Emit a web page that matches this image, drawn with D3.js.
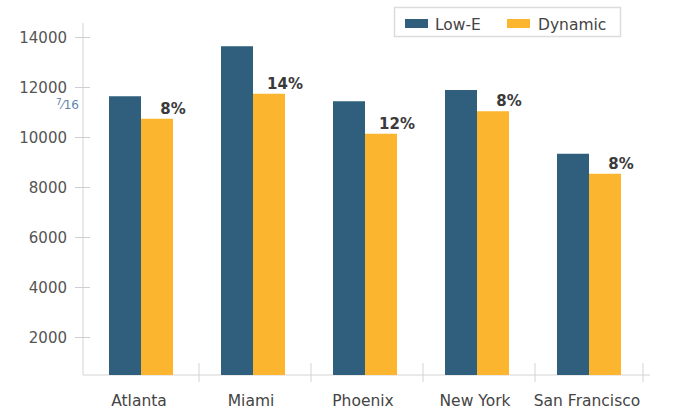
<!DOCTYPE html>
<html><head><meta charset="utf-8">
<script src="https://cdn.jsdelivr.net/npm/d3@7"></script>
<style>body{margin:0;background:#fff;}svg{display:block;font-family:"DejaVu Sans",sans-serif;}</style>
</head><body>
<svg id="c" width="690" height="411"></svg>
<script>
const categories = ["Atlanta","Miami","Phoenix","New York","San Francisco"];
const lowE = [11650,13650,11450,11900,9350];
const dynamic = [10750,11750,10150,11050,8550];
const pctLabels = ["8%","14%","12%","8%","8%"];
const yTicks = [2000,4000,6000,8000,10000,12000,14000];
const seriesNames = ["Low-E","Dynamic"];
const colors = ["#2f5f7c","#fbb52e"];

const svg = d3.select("#c");
const y = d3.scaleLinear().domain([500,14000]).range([375,37.5]);
const x = d3.scaleBand().domain(categories).range([85,645]).paddingInner(0).paddingOuter(0);
const bw = 32;

// y axis
svg.append("line").attr("x1",83).attr("x2",83).attr("y1",23).attr("y2",375).attr("stroke","#d4d4d4").attr("stroke-width",1);
const yg = svg.append("g");
yTicks.forEach(t=>{
  yg.append("line").attr("x1",75).attr("x2",90).attr("y1",y(t)).attr("y2",y(t)).attr("stroke","#cfcfcf");
  yg.append("text").attr("x",67).attr("y",y(t)).attr("dy","0.36em").attr("text-anchor","end")
    .attr("font-size",15).attr("fill","#555").text(t);
});
// x axis
svg.append("line").attr("x1",83).attr("x2",650).attr("y1",375).attr("y2",375).attr("stroke","#d4d4d4");
categories.slice(1).forEach(c=>{
  svg.append("line").attr("x1",x(c)+2).attr("x2",x(c)+2).attr("y1",363).attr("y2",382).attr("stroke","#d4d4d4");
});
svg.append("line").attr("x1",643).attr("x2",643).attr("y1",363).attr("y2",382).attr("stroke","#d4d4d4");

const cx = c => x(c)+x.bandwidth()/2;
// bars
categories.forEach((c,i)=>{
  svg.append("rect").attr("x",cx(c)-bw).attr("width",bw).attr("y",y(lowE[i])).attr("height",375-y(lowE[i])).attr("fill",colors[0]);
  svg.append("rect").attr("x",cx(c)).attr("width",bw).attr("y",y(dynamic[i])).attr("height",375-y(dynamic[i])).attr("fill",colors[1]);
  svg.append("text").attr("x",cx(c)+bw).attr("y",y(dynamic[i])-5).attr("text-anchor","middle")
    .attr("font-size",15).attr("font-weight","bold").attr("fill","#3a3a3a").text(pctLabels[i]);
  svg.append("text").attr("x",cx(c)-2).attr("y",406).attr("text-anchor","middle")
    .attr("font-size",15.5).attr("fill","#444").text(c);
});

// legend
svg.append("rect").attr("x",394.5).attr("y",7.5).attr("width",226).attr("height",29).attr("fill","#fff").attr("stroke","#dcdcdc").attr("stroke-width",1.5);
const lg = [[405,435],[507,538]];
seriesNames.forEach((s,i)=>{
  svg.append("rect").attr("x",lg[i][0]).attr("y",19).attr("width",23).attr("height",9).attr("fill",colors[i]);
  svg.append("text").attr("x",lg[i][1]).attr("y",24).attr("dy","0.36em").attr("font-size",15.5).attr("fill","#444").text(s);
});

// stray fraction mark
const fr = svg.append("text").attr("x",56).attr("y",109).attr("font-size",12).attr("fill","#6384aa");
fr.append("tspan").attr("font-size",9).attr("dy",-4).text("7");
fr.append("tspan").attr("dy",4).text("⁄16");
</script>
</body></html>
